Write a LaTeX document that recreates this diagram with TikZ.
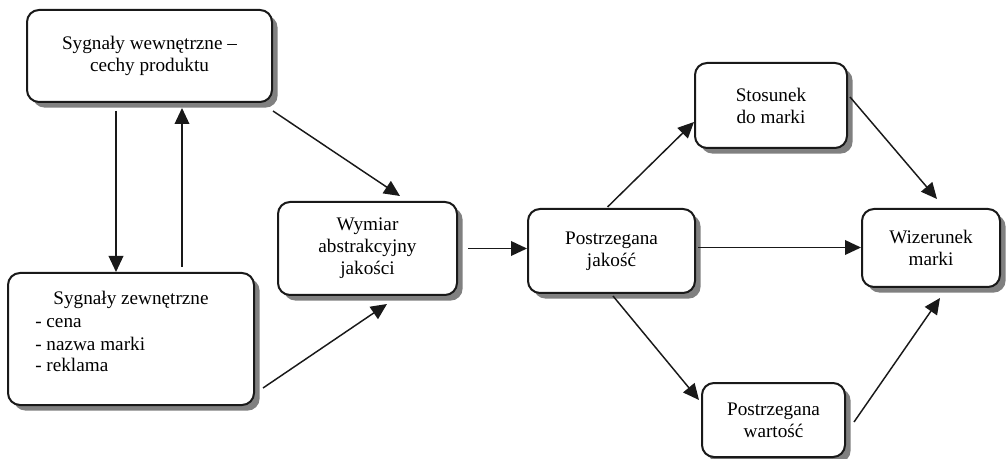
\documentclass[tikz,border=0pt]{standalone}
\usepackage{fontspec}
\setmainfont{Liberation Serif}
\usetikzlibrary{arrows.meta,shadows,calc}
\tikzset{
  box/.style={draw=black!90, line width=1.5pt, rounded corners=9pt, fill=white,
    align=center, inner sep=0pt,
    drop shadow={shadow xshift=4.2pt, shadow yshift=-4.2pt, fill=black!50, opacity=1}},
  arr/.style={-{Triangle[length=12pt,width=11pt]}, line width=1.1pt, draw=black!90},
  txt/.style={inner sep=0pt}
}
\begin{document}
\begin{tikzpicture}[x=0.75pt,y=-0.75pt, font=\rmfamily\fontsize{14.4}{16.5}\selectfont]
\useasboundingbox (0,0) rectangle (1006,459);
% boxes
\node[box, minimum width={245*0.75pt}, minimum height={92*0.75pt}] (b1) at (149.5,56)
  {Sygnały wewnętrzne –\\cechy produktu};
\node[box, minimum width={246*0.75pt}, minimum height={132*0.75pt}] (b2) at (131,339) {};
\node[txt, anchor=base] (b2t) at (131,305) {Sygnały zewnętrzne};
\node[txt, anchor=base west] (l1) at (35,328) {- cena};
\node[txt, anchor=base west] (l2) at (35,350) {- nazwa marki};
\node[txt, anchor=base west] (l3) at (35,372) {- reklama};
\node[box, minimum width={179*0.75pt}, minimum height={93*0.75pt}] (b3) at (367.5,248.5)
  {Wymiar\\abstrakcyjny\\jakości};
\node[box, minimum width={167*0.75pt}, minimum height={84*0.75pt}] (b4) at (611.5,251)
  {Postrzegana\\jakość};
\node[box, minimum width={152*0.75pt}, minimum height={85*0.75pt}] (b5) at (771,105.5)
  {Stosunek\\do marki};
\node[box, minimum width={138*0.75pt}, minimum height={78*0.75pt}] (b6) at (931,248)
  {Wizerunek\\marki};
\node[box, minimum width={143*0.75pt}, minimum height={74*0.75pt}] (b7) at (773.5,420)
  {Postrzegana\\wartość};
% connectors
\coordinate (xd) at (116,0);
\coordinate (xu) at (182,0);
\draw[arr] ($(b1.south -| xd)+(0,8)$) -- (b2.north -| xd);
\draw[arr] ($(b2.north -| xu)+(0,-5)$) -- ($(b1.south -| xu)+(0,5)$);
\draw[arr] ($(b1.south east)+(0,8)$) -- ($(b3.north)+(32.5,-5)$);
\draw[arr] ($(b2.south east)+(8,-18)$) -- ($(b3.south)+(19.5,8)$);
\draw[arr] ($(b3.east)+(10,0)$) -- (b4.west |- b3.east);
\draw[arr] ($(b4.north)+(-4,-1)$) -- ($(b5.west)+(0,16.5)$);
\draw[arr] ($(b5.east)+(2,-8.5)$) -- ($(b6.north)+(6,-9)$);
\draw[arr] ($(b4.east)+(2,-3.5)$) -- ($(b6.west)+(0,-0.5)$);
\draw[arr] ($(b4.south)+(1.5,2)$) -- ($(b7.west)+(-2,-20)$);
\draw[arr] ($(b7.east)+(8,2)$) -- ($(b6.south)+(9,10)$);
\end{tikzpicture}
\end{document}
